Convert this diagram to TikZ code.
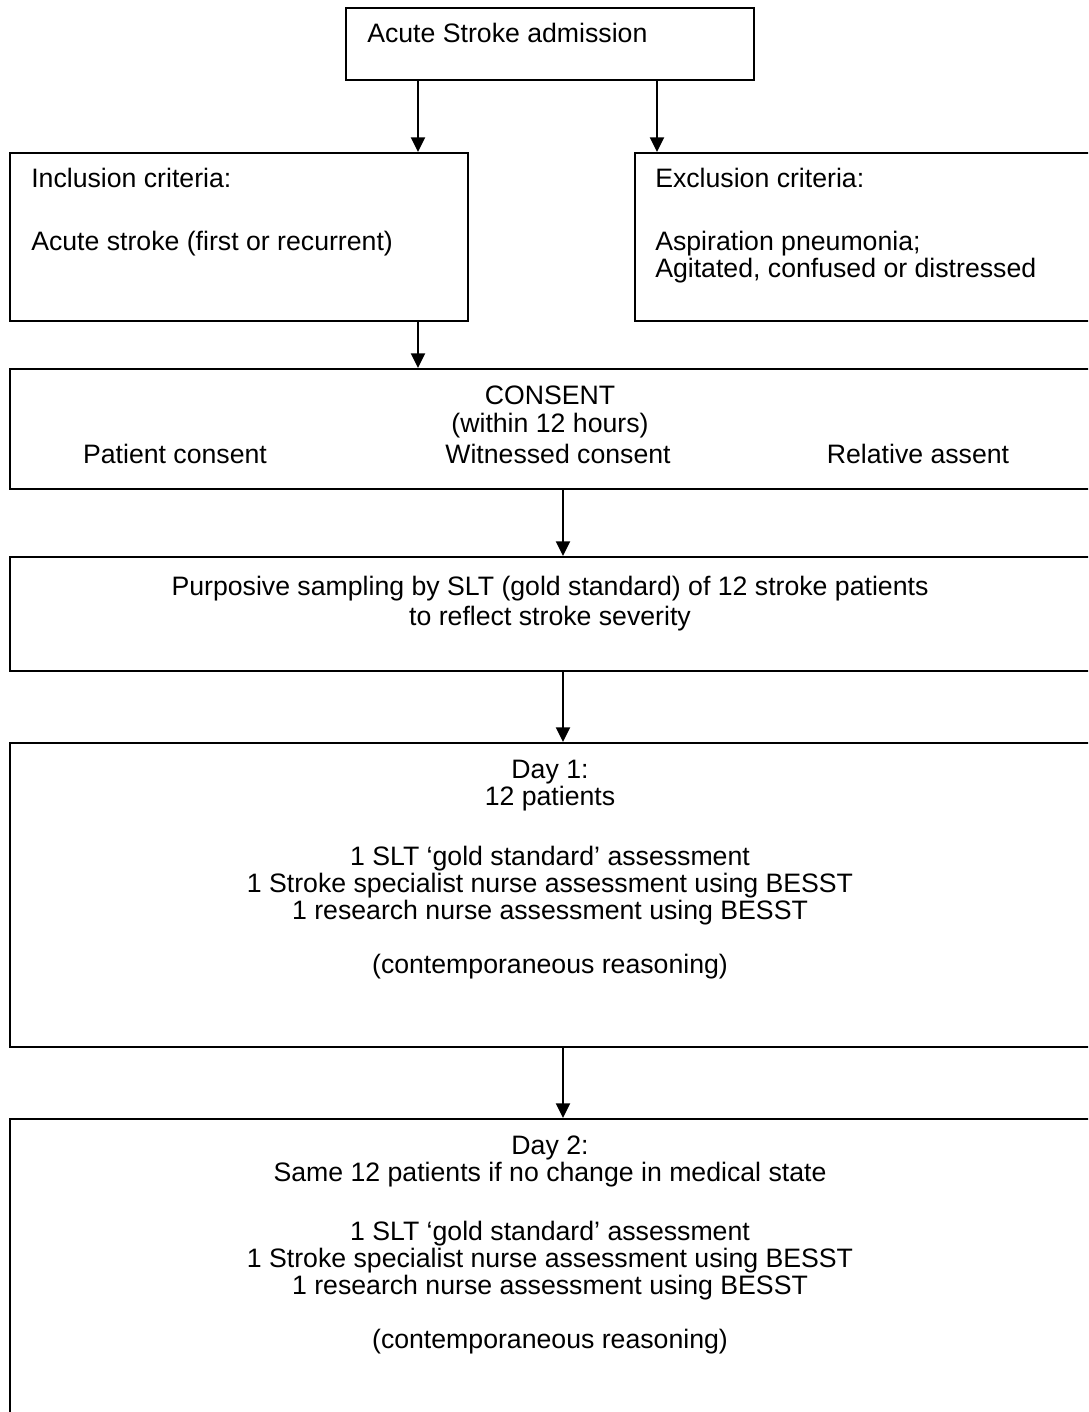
\documentclass[tikz,border=0pt]{standalone}
\usepackage{fontspec}
\setmainfont{Liberation Sans}
\usetikzlibrary{arrows.meta}

\begin{document}
\begin{tikzpicture}[
  x=0.75pt, y=-0.75pt,
  box/.style={draw=black, line width=1.5pt, rectangle, inner sep=0pt, anchor=north west},
  txt/.style={inner sep=0pt, font=\fontsize{20pt}{20.25pt}\selectfont},
  lft/.style={txt, anchor=base west},
  ctr/.style={txt, anchor=base},
  arr/.style={line width=1.5pt, -{Triangle[width=10.5pt,length=11pt]}}
]
% page frame
\clip (0,0) rectangle (1088,1412);
\fill[white] (0,0) rectangle (1088,1412);

% boxes (wide boxes run past the right edge of the page)
\node[box, minimum width=408*0.75pt, minimum height=72*0.75pt]  (adm)  at (345,7)    {};
\node[box, minimum width=458*0.75pt, minimum height=168*0.75pt] (inc)  at (9,152)    {};
\node[box, minimum width=480*0.75pt, minimum height=168*0.75pt] (exc)  at (634,152)  {};
\node[box, minimum width=1100*0.75pt, minimum height=120*0.75pt] (cons) at (9,368)   {};
\node[box, minimum width=1100*0.75pt, minimum height=114*0.75pt] (samp) at (9,556)   {};
\node[box, minimum width=1100*0.75pt, minimum height=304*0.75pt] (day1) at (9,742)   {};
\node[box, minimum width=1100*0.75pt, minimum height=320*0.75pt] (day2) at (9,1118)  {};

% texts
\node[lft] (admt) at (367,43) {Acute Stroke admission};

\node[lft] (inct1) at (31,188) {Inclusion criteria:};
\node[lft] (inct2) at (31,251) {Acute stroke (first or recurrent)};

\node[lft] (exct1) at (655,188) {Exclusion criteria:};
\node[lft] (exct2) at (655,251) {Aspiration pneumonia;};
\node[lft] (exct3) at (655,278) {Agitated, confused or distressed};

\node[ctr] (const1) at (550,404) {CONSENT};
\node[ctr] (const2) at (550,432) {(within 12 hours)};
\node[ctr] (const3) at (175,463) {Patient consent};
\node[ctr] (const4) at (558,463) {Witnessed consent};
\node[ctr] (const5) at (918,463) {Relative assent};

\node[ctr] (sampt1) at (550,595) {Purposive sampling by SLT (gold standard) of 12 stroke patients};
\node[ctr] (sampt2) at (550,625) {to reflect stroke severity};

\node[ctr] (d1t1) at (550,778) {Day 1:};
\node[ctr] (d1t2) at (550,805) {12 patients};
\node[ctr] (d1t3) at (550,865) {1 SLT ‘gold standard’ assessment};
\node[ctr] (d1t4) at (550,892) {1 Stroke specialist nurse assessment using BESST};
\node[ctr] (d1t5) at (550,919) {1 research nurse assessment using BESST};
\node[ctr] (d1t6) at (550,973) {(contemporaneous reasoning)};

\node[ctr] (d2t1) at (550,1154) {Day 2:};
\node[ctr] (d2t2) at (550,1181) {Same 12 patients if no change in medical state};
\node[ctr] (d2t3) at (550,1240) {1 SLT ‘gold standard’ assessment};
\node[ctr] (d2t4) at (550,1267) {1 Stroke specialist nurse assessment using BESST};
\node[ctr] (d2t5) at (550,1294) {1 research nurse assessment using BESST};
\node[ctr] (d2t6) at (550,1348) {(contemporaneous reasoning)};

% connector columns
\coordinate (xa) at (418,0);
\coordinate (xb) at (657,0);
\coordinate (xc) at (563,0);

% connectors
\draw[arr] (adm.south -| xa) -- (inc.north -| xa);
\draw[arr] (adm.south -| xb) -- (exc.north -| xb);
\draw[arr] (inc.south -| xa) -- (cons.north -| xa);
\draw[arr] (cons.south -| xc) -- (samp.north -| xc);
\draw[arr] (samp.south -| xc) -- (day1.north -| xc);
\draw[arr] (day1.south -| xc) -- (day2.north -| xc);
\end{tikzpicture}
\end{document}
